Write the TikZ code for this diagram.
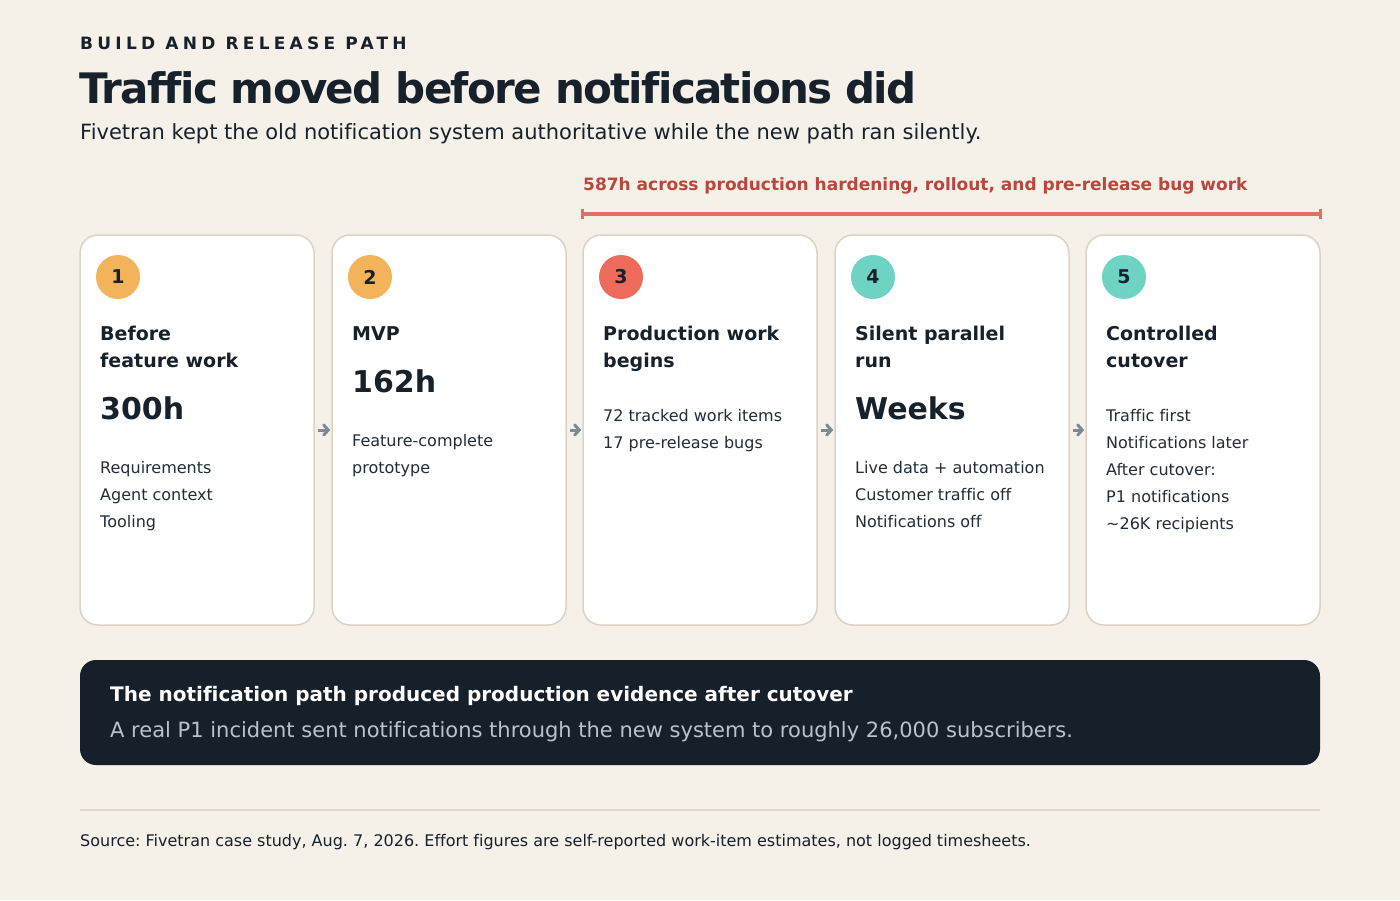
\documentclass[tikz,border=0pt]{standalone}
\usepackage{fontspec}
\setmainfont[Ligatures=NoCommon]{DejaVu Sans}
\usetikzlibrary{arrows.meta}
\definecolor{bg}{HTML}{F5F0E8}
\definecolor{ink}{HTML}{17212B}
\definecolor{bodyc}{HTML}{222D37}
\definecolor{cardline}{HTML}{DCD3C5}
\definecolor{orangec}{HTML}{F2B35B}
\definecolor{coralc}{HTML}{EE6B5B}
\definecolor{tealc}{HTML}{6ED3C3}
\definecolor{redtext}{HTML}{B8473D}
\definecolor{barc}{HTML}{E46F60}
\definecolor{arrowc}{HTML}{7D8A94}
\definecolor{darkbox}{HTML}{15202A}
\definecolor{softtext}{HTML}{B9C3CC}
\definecolor{rulec}{HTML}{DDD7CD}
\newcommand\fs[1]{\fontsize{#1}{#1}\selectfont}
\frenchspacing
\tikzset{
  card/.style={draw=cardline, line width=1.5pt, fill=white, rounded corners=18pt,
    minimum width=234pt, minimum height=390pt, inner sep=0pt},
  numc/.style={circle, minimum size=44pt, inner sep=0pt, font=\bfseries\fs{19}, text=ink},
  ttl/.style={anchor=base west, inner sep=0pt, font=\bfseries\fs{19}, text=ink},
  big/.style={anchor=base west, inner sep=0pt, font=\bfseries\fs{30}, text=ink},
  body/.style={anchor=base west, inner sep=0pt, font=\fs{16}, text=bodyc},
  flow/.style={draw=arrowc, line width=3pt, -{Straight Barb[length=4.5pt,width=10pt,line cap=round]}},
  plain/.style={anchor=base west, inner sep=0pt}
}
\begin{document}
\begin{tikzpicture}[x=1pt,y=-1pt]
\fill[bg] (0,0) rectangle (1400,900);
\useasboundingbox (0,0) rectangle (1400,900);

% header
\node[plain, font=\bfseries\fs{17}\addfontfeature{LetterSpace=25}, text=ink] (kicker) at (80,49) {BUILD AND RELEASE PATH};
\node[plain, font=\bfseries\fs{42}\addfontfeature{LetterSpace=-4}, text=ink] (title) at (79,103) {Traffic moved before notifications did};
\node[plain, font=\fs{21}, text=ink] (sub) at (80,139) {Fivetran kept the old notification system authoritative while the new path ran silently.};

% span bar
\node[plain, font=\bfseries\fs{17}, text=redtext] (spanlbl) at (583,190) {587h across production hardening, rollout, and pre-release bug work};
\coordinate (barL) at (582.5,214);
\coordinate (barR) at (1320.5,214);
\draw[barc, line width=4pt] (barL) -- (barR);
\draw[barc, line width=2.5pt] ([yshift=-5pt]barL) -- ([yshift=5pt]barL);
\draw[barc, line width=2.5pt] ([yshift=-5pt]barR) -- ([yshift=5pt]barR);

% cards
\node[card] (c1) at (197,430) {};
\node[card] (c2) at (449,430) {};
\node[card] (c3) at (700,430) {};
\node[card] (c4) at (952,430) {};
\node[card] (c5) at (1203,430) {};

% arrows
\draw[flow] ([xshift=3pt]c1.east) -- ([xshift=-1pt]c2.west);
\draw[flow] ([xshift=3pt]c2.east) -- ([xshift=-1pt]c3.west);
\draw[flow] ([xshift=3pt]c3.east) -- ([xshift=-1pt]c4.west);
\draw[flow] ([xshift=3pt]c4.east) -- ([xshift=-1pt]c5.west);

% card 1
\node[numc, fill=orangec] (n1) at (118,277) {1};
\node[ttl] (t1a) at (100,340) {Before};
\node[ttl] (t1b) at (100,367) {feature work};
\node[big] (b1) at (100,419) {300h};
\node[body] (d1a) at (100,473) {Requirements};
\node[body] (d1b) at (100,500) {Agent context};
\node[body] (d1c) at (100,527) {Tooling};

% card 2
\node[numc, fill=orangec] (n2) at (370,277) {2};
\node[ttl] (t2a) at (352,340) {MVP};
\node[big] (b2) at (352,392) {162h};
\node[body] (d2a) at (352,446) {Feature-complete};
\node[body] (d2b) at (352,473) {prototype};

% card 3
\node[numc, fill=coralc] (n3) at (621,277) {3};
\node[ttl] (t3a) at (603,340) {Production work};
\node[ttl] (t3b) at (603,367) {begins};
\node[body] (d3a) at (603,421) {72 tracked work items};
\node[body] (d3b) at (603,448) {17 pre-release bugs};

% card 4
\node[numc, fill=tealc] (n4) at (873,277) {4};
\node[ttl] (t4a) at (855,340) {Silent parallel};
\node[ttl] (t4b) at (855,367) {run};
\node[big] (b4) at (855,419) {Weeks};
\node[body] (d4a) at (855,473) {Live data + automation};
\node[body] (d4b) at (855,500) {Customer traffic off};
\node[body] (d4c) at (855,527) {Notifications off};

% card 5
\node[numc, fill=tealc] (n5) at (1124,277) {5};
\node[ttl] (t5a) at (1106,340) {Controlled};
\node[ttl] (t5b) at (1106,367) {cutover};
\node[body] (d5a) at (1106,421) {Traffic first};
\node[body] (d5b) at (1106,448) {Notifications later};
\node[body] (d5c) at (1106,475) {After cutover:};
\node[body] (d5d) at (1106,502) {P1 notifications};
\node[body] (d5e) at (1106,529) {\textasciitilde 26K recipients};

% dark callout
\node[fill=darkbox, rounded corners=16pt, minimum width=1240pt, minimum height=105pt, inner sep=0pt] (call) at (700,712.5) {};
\node[plain, font=\bfseries\fs{20}, text=white] (callA) at (110,701) {The notification path produced production evidence after cutover};
\node[plain, font=\fs{21}, text=softtext] (callB) at (110,737) {A real P1 incident sent notifications through the new system to roughly 26,000 subscribers.};

% footer
\coordinate (ruleL) at (80,810);
\coordinate (ruleR) at (1320,810);
\draw[rulec, line width=2pt] (ruleL) -- (ruleR);
\node[plain, font=\fs{16}, text=ink] (src) at (80,846) {Source: Fivetran case study, Aug. 7, 2026. Effort figures are self-reported work-item estimates, not logged timesheets.};
\end{tikzpicture}
\end{document}
